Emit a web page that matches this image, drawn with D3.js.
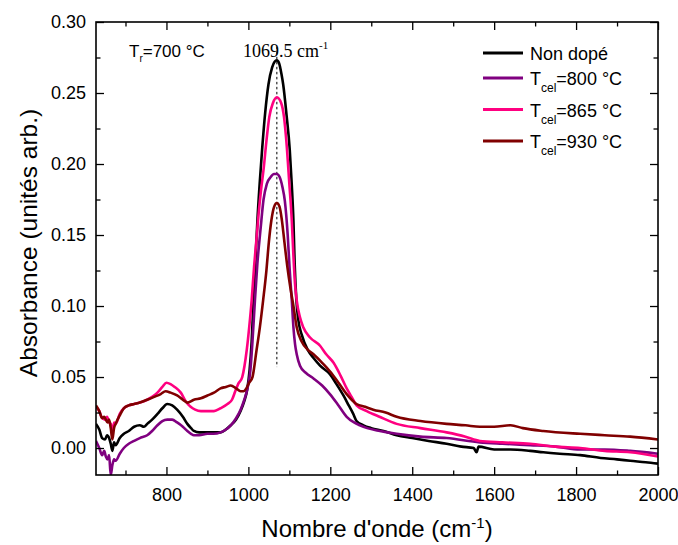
<!DOCTYPE html>
<html>
<head>
<meta charset="utf-8">
<script src="https://cdn.jsdelivr.net/npm/d3@7"></script>
<style>
  html, body { margin: 0; padding: 0; background: #fff; }
  svg { display: block; }
  text { font-family: "Liberation Sans", Arial, sans-serif; fill: #000; }
</style>
</head>
<body>
<svg id="chart" width="678" height="545"></svg>
<script>
// ---------- DATA (wavenumber cm-1, absorbance) ----------
const nonDope = [
  [628,0.017],[636,0.013],[643,0.007],[650,0.006],[655,0.009],[660,0.007],[664,0.003],[668,-0.002],[672,0.004],[676,0.002],
  [686,0.007],[696,0.010],[708,0.012],[721,0.015],[735,0.016],[745,0.015],[753,0.017],[765,0.020],[778,0.024],[790,0.028],
  [802,0.031],[814,0.030],[826,0.027],[840,0.022],[851,0.017],[860,0.014],[867,0.012],[880,0.011],[900,0.011],[915,0.011],
  [932,0.011],[945,0.013],[957,0.016],[970,0.020],[981,0.026],[990,0.033],[997,0.041],[1003,0.055],[1008,0.075],[1012,0.100],
  [1017,0.130],[1022,0.160],[1028,0.188],[1034,0.212],[1041,0.236],[1049,0.256],[1058,0.268],[1064,0.272],[1069.5,0.273],[1075,0.271],
  [1081,0.263],[1085,0.256],[1093,0.235],[1101,0.210],[1106,0.185],[1110,0.160],[1113,0.130],[1117,0.105],[1122,0.090],[1130,0.080],
  [1145,0.069],[1160,0.063],[1175,0.058],[1199,0.052],[1215,0.045],[1232,0.037],[1245,0.030],[1256,0.024],[1264,0.019],[1281,0.016],
  [1300,0.014],[1330,0.012],[1362,0.009],[1400,0.007],[1440,0.005],[1484,0.003],[1520,0.001],[1550,0.000],[1557,-0.003],[1562,0.001],
  [1600,-0.001],[1640,-0.001],[1688,-0.002],[1720,-0.003],[1760,-0.004],[1810,-0.005],[1860,-0.007],[1900,-0.008],[1932,-0.009],[1970,-0.010],[2000,-0.011]
];
const tcel800 = [
  [628,0.005],[636,0.000],[643,-0.005],[648,-0.002],[652,-0.006],[656,-0.008],[660,-0.005],[664,-0.019],[668,-0.012],[672,-0.008],
  [676,-0.009],[686,-0.004],[696,0.000],[708,0.003],[721,0.005],[735,0.007],[753,0.009],[765,0.012],[778,0.016],[790,0.019],
  [802,0.020],[814,0.020],[826,0.018],[840,0.015],[851,0.012],[860,0.010],[867,0.009],[880,0.009],[900,0.010],[915,0.010],
  [932,0.011],[945,0.013],[957,0.016],[970,0.021],[981,0.027],[990,0.034],[997,0.041],[1005,0.055],[1010,0.075],[1016,0.104],
  [1022,0.130],[1030,0.155],[1037,0.175],[1045,0.186],[1055,0.191],[1062,0.193],[1069.5,0.193],[1076,0.191],[1083,0.184],[1089,0.174],
  [1096,0.150],[1101,0.125],[1106,0.104],[1110,0.085],[1114,0.073],[1118,0.066],[1126,0.058],[1140,0.053],[1159,0.049],[1180,0.044],
  [1199,0.038],[1220,0.030],[1240,0.022],[1258,0.018],[1272,0.016],[1290,0.014],[1321,0.012],[1362,0.010],[1420,0.008],[1484,0.007],
  [1565,0.004],[1620,0.003],[1688,0.002],[1750,0.001],[1810,-0.001],[1870,-0.001],[1932,-0.002],[2000,-0.004]
];
const tcel865 = [
  [628,0.029],[636,0.026],[643,0.021],[650,0.020],[655,0.022],[660,0.018],[664,0.017],[668,0.010],[672,0.018],[676,0.017],
  [686,0.024],[696,0.028],[708,0.030],[721,0.031],[735,0.032],[753,0.034],[765,0.036],[778,0.039],[790,0.043],[800,0.046],
  [810,0.045],[820,0.043],[835,0.039],[847,0.033],[859,0.029],[870,0.027],[884,0.026],[900,0.026],[916,0.026],[932,0.028],
  [949,0.031],[960,0.034],[968,0.040],[975,0.045],[985,0.050],[996,0.069],[1002,0.085],[1008,0.104],[1014,0.128],[1020,0.148],
  [1025,0.165],[1031,0.182],[1037,0.196],[1044,0.216],[1051,0.233],[1060,0.243],[1069.5,0.247],[1080,0.243],[1087,0.233],[1093,0.215],
  [1100,0.186],[1106,0.160],[1110,0.135],[1114,0.115],[1118,0.104],[1126,0.092],[1134,0.085],[1150,0.078],[1175,0.072],[1190,0.066],
  [1208,0.060],[1225,0.051],[1240,0.042],[1252,0.036],[1264,0.030],[1289,0.026],[1320,0.022],[1362,0.017],[1420,0.014],[1484,0.011],
  [1530,0.008],[1565,0.005],[1620,0.004],[1688,0.003],[1750,0.001],[1810,0.000],[1870,-0.002],[1932,-0.003],[2000,-0.006]
];
const tcel930 = [
  [628,0.030],[636,0.026],[643,0.021],[648,0.022],[652,0.020],[656,0.018],[660,0.020],[664,0.014],[668,0.006],[672,0.014],
  [676,0.017],[686,0.023],[696,0.028],[708,0.030],[721,0.031],[735,0.032],[753,0.034],[770,0.036],[786,0.038],[798,0.040],
  [810,0.039],[826,0.037],[840,0.034],[851,0.032],[867,0.034],[884,0.035],[900,0.037],[916,0.039],[932,0.042],[945,0.043],
  [957,0.044],[970,0.042],[981,0.040],[988,0.040],[995,0.042],[1002,0.046],[1010,0.050],[1020,0.069],[1028,0.085],[1036,0.104],
  [1044,0.125],[1050,0.145],[1056,0.160],[1063,0.170],[1069.5,0.1725],[1076,0.170],[1082,0.160],[1088,0.145],[1095,0.128],[1103,0.112],
  [1110,0.100],[1118,0.085],[1130,0.075],[1146,0.069],[1159,0.066],[1180,0.060],[1199,0.054],[1220,0.046],[1240,0.038],[1264,0.031],
  [1285,0.029],[1305,0.027],[1335,0.025],[1362,0.022],[1420,0.019],[1484,0.017],[1530,0.016],[1565,0.015],[1600,0.015],[1640,0.016],
  [1670,0.014],[1720,0.012],[1810,0.010],[1870,0.009],[1932,0.008],[2000,0.006]
];
const seriesNames = ["Non dopé", "800", "865", "930"];
const seriesColors = ["#000000", "#800080", "#ff0080", "#800000"];
const xMajorTicks = [800, 1000, 1200, 1400, 1600, 1800, 2000];
const xMinorTicks = [700, 900, 1100, 1300, 1500, 1700, 1900];
const yMajorTicks = [0.00, 0.05, 0.10, 0.15, 0.20, 0.25, 0.30];
const yMinorTicks = [0.025, 0.075, 0.125, 0.175, 0.225, 0.275];
const peakPosition = 1069.5;

// ---------- LAYOUT ----------
const W = 678, H = 545;
const m = { left: 96, top: 22, right: 20, bottom: 70 };
const pw = W - m.left - m.right, ph = H - m.top - m.bottom;
const svg = d3.select("#chart");
const g = svg.append("g").attr("transform", `translate(${m.left},${m.top})`);

const x = d3.scaleLinear().domain([628, 2000]).range([0, pw]);
const y = d3.scaleLinear().domain([-0.019, 0.30]).range([ph, 0]);

svg.append("defs").append("clipPath").attr("id", "clip")
  .append("rect").attr("width", pw).attr("height", ph);

// dashed peak marker
g.append("line")
  .attr("x1", x(peakPosition)).attr("x2", x(peakPosition))
  .attr("y1", y(0.2825)).attr("y2", y(0.057))
  .attr("stroke", "#000").attr("stroke-width", 1).attr("stroke-dasharray", "2.5,2.5");

// curves
const line = d3.line().x(d => x(d[0])).y(d => y(d[1])).curve(d3.curveMonotoneX);
const allSeries = [nonDope, tcel800, tcel865, tcel930];
const cg = g.append("g").attr("clip-path", "url(#clip)");
allSeries.forEach((s, i) => {
  cg.append("path").datum(s)
    .attr("d", line)
    .attr("fill", "none")
    .attr("stroke", seriesColors[i])
    .attr("stroke-width", 2.6)
    .attr("stroke-linejoin", "round");
});

// axes (ticks inside on all sides)
function styleAxis(sel) {
  sel.select(".domain").remove();
  sel.selectAll("line").attr("stroke", "#000").attr("stroke-width", 1.3);
  sel.selectAll("text").style("font-size", "18px").style("font-family", "'Liberation Sans', Arial, sans-serif");
}
const xb = g.append("g").attr("transform", `translate(0,${ph})`)
  .call(d3.axisBottom(x).tickValues(xMajorTicks).tickSize(-8).tickPadding(13).tickFormat(d3.format("d")));
styleAxis(xb);
const xbm = g.append("g").attr("transform", `translate(0,${ph})`)
  .call(d3.axisBottom(x).tickValues(xMinorTicks).tickSize(-4.5).tickFormat(""));
styleAxis(xbm);
const xt = g.append("g")
  .call(d3.axisTop(x).tickValues(xMajorTicks).tickSize(-8).tickFormat(""));
styleAxis(xt);
const xtm = g.append("g")
  .call(d3.axisTop(x).tickValues(xMinorTicks).tickSize(-4.5).tickFormat(""));
styleAxis(xtm);
const yl = g.append("g")
  .call(d3.axisLeft(y).tickValues(yMajorTicks).tickSize(-8).tickPadding(10).tickFormat(d3.format(".2f")));
styleAxis(yl);
const ylm = g.append("g")
  .call(d3.axisLeft(y).tickValues(yMinorTicks).tickSize(-4.5).tickFormat(""));
styleAxis(ylm);
const yr = g.append("g").attr("transform", `translate(${pw},0)`)
  .call(d3.axisRight(y).tickValues(yMajorTicks).tickSize(-8).tickFormat(""));
styleAxis(yr);
const yrm = g.append("g").attr("transform", `translate(${pw},0)`)
  .call(d3.axisRight(y).tickValues(yMinorTicks).tickSize(-4.5).tickFormat(""));
styleAxis(yrm);

// frame
g.append("rect").attr("width", pw).attr("height", ph)
  .attr("fill", "none").attr("stroke", "#000").attr("stroke-width", 1.6);

// axis titles
const xTitle = svg.append("text")
  .attr("x", 377).attr("y", 537).attr("text-anchor", "middle")
  .style("font-size", "24px");
xTitle.append("tspan").text("Nombre d'onde (cm");
xTitle.append("tspan").attr("dy", -9).style("font-size", "15px").text("-1");
xTitle.append("tspan").attr("dy", 9).text(")");

svg.append("text")
  .attr("transform", "translate(37,243) rotate(-90)")
  .attr("text-anchor", "middle")
  .style("font-size", "24.5px")
  .text("Absorbance (unités arb.)");

// annotations
const tr = svg.append("text").attr("x", 129).attr("y", 57).style("font-size", "17px");
tr.append("tspan").text("T");
tr.append("tspan").attr("dy", 5).style("font-size", "10px").text("r");
tr.append("tspan").attr("dy", -5).text("=700 °C");

const pk = svg.append("text").attr("x", 243).attr("y", 57)
  .style("font-family", "'Liberation Serif', 'Times New Roman', serif").style("font-size", "18px");
pk.append("tspan").text("1069.5 cm");
pk.append("tspan").attr("dy", -8).style("font-size", "11px").text("-1");

// legend
const legendRows = [
  { lineY: 53, textY: 60 },
  { lineY: 78, textY: 85 },
  { lineY: 109.5, textY: 116.5 },
  { lineY: 141, textY: 148 }
];
const lg = svg.append("g");
seriesNames.forEach((name, i) => {
  const r = legendRows[i];
  lg.append("line").attr("x1", 483).attr("x2", 523).attr("y1", r.lineY).attr("y2", r.lineY)
    .attr("stroke", seriesColors[i]).attr("stroke-width", 2.8);
  const t = lg.append("text").attr("x", 530).attr("y", r.textY).style("font-size", "18px");
  if (i === 0) {
    t.text(name);
  } else {
    t.append("tspan").text("T");
    t.append("tspan").attr("dy", 7).style("font-size", "12px").text("cel");
    t.append("tspan").attr("dy", -7).text("=" + name + " °C");
  }
});
</script>
</body>
</html>
